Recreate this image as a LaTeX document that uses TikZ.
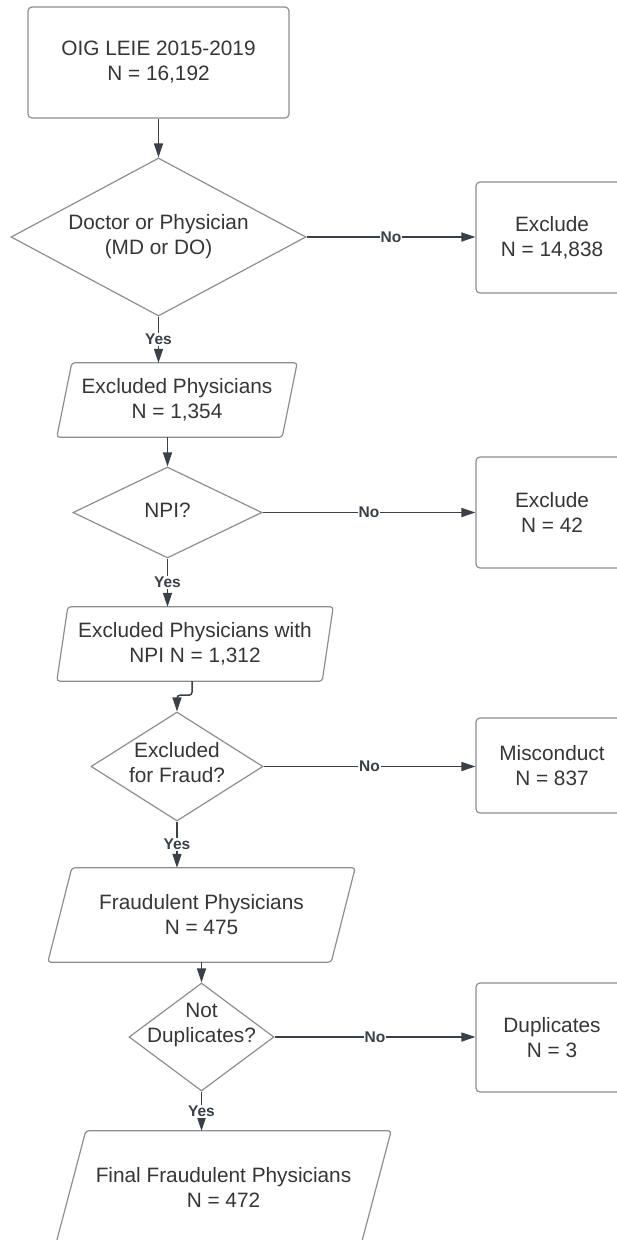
\documentclass[tikz,border=0pt]{standalone}
\usepackage{fontspec}
\setmainfont{Liberation Sans}
\usetikzlibrary{arrows.meta, shapes.geometric}

\definecolor{linegray}{HTML}{3A4048}
\definecolor{boxgray}{HTML}{8E8E8E}
\definecolor{textgray}{HTML}{363636}

\begin{document}
\begin{tikzpicture}[
    x=1pt, y=-1pt,
    every node/.style={text=textgray, font=\fontsize{20.8pt}{25pt}\selectfont, align=center},
    procbox/.style={rectangle, draw=boxgray, line width=1.2pt, rounded corners=4pt, inner sep=0pt},
    iobox/.style={rectangle, inner sep=0pt, append after command={\pgfextra{
        \draw[boxgray, line width=1.2pt, rounded corners=3pt]
            ([xshift=#1]\tikzlastnode.north west) -- (\tikzlastnode.north east)
            -- ([xshift=-#1]\tikzlastnode.south east) -- (\tikzlastnode.south west) -- cycle;}}},
    decision/.style={diamond, draw=boxgray, line width=1.2pt, inner sep=0pt},
    flow/.style={draw=linegray, line width=1.5pt, -{Triangle[length=14pt, width=9pt]}},
    answer/.style={fill=white, inner sep=1pt, text=linegray, font=\fontsize{15.5pt}{18pt}\selectfont\bfseries}
]
    \fill[white] (0,0) rectangle (616,1240);
    \useasboundingbox (0,0) rectangle (616,1240);

    % Main column
    \node[procbox, minimum width=261pt, minimum height=111pt] (src) at (158.5, 62.5) {OIG LEIE 2015-2019\\N = 16,192};

    \node[decision, minimum width=295pt, minimum height=158pt] (d1) at (158.5, 237) {};
    \node (d1t) at (d1) {Doctor or Physician\\(MD or DO)};

    \node[iobox=15pt, minimum width=240pt, minimum height=74pt] (p1) at (177, 400) {Excluded Physicians\\N = 1,354};

    \node[decision, minimum width=189pt, minimum height=91pt] (d2) at (167.5, 512.5) {};
    \node (d2t) at ([yshift=2pt]d2.center) {NPI?};

    \node[iobox=11pt, minimum width=276pt, minimum height=74pt] (p2) at (195, 644) {Excluded Physicians with\\NPI N = 1,312};

    \node[decision, minimum width=172pt, minimum height=109pt] (d3) at (177, 766.5) {};
    \node (d3t) at ([yshift=4pt]d3.center) {Excluded\\for Fraud?};

    \node[iobox=24pt, minimum width=307pt, minimum height=94pt] (p3) at (201.5, 915) {Fraudulent Physicians\\N = 475};

    \node[decision, minimum width=145pt, minimum height=108pt] (d4) at (201.5, 1037) {};
    \node (d4t) at ([yshift=12pt]d4.center) {Not\\Duplicates?};

    \node[iobox=30pt, minimum width=335pt, minimum height=113pt] (p4) at (223.5, 1187.5) {Final Fraudulent Physicians\\N = 472};

    % Exclusions
    \node[procbox, minimum width=152pt, minimum height=111pt] (ex1) at (552, 237.5) {Exclude\\N = 14,838};
    \node[procbox, minimum width=152pt, minimum height=111pt] (ex2) at (552, 512.5) {Exclude\\N = 42};
    \node[procbox, minimum width=152pt, minimum height=95pt] (mis) at (552, 765.5) {Misconduct\\N = 837};
    \node[procbox, minimum width=152pt, minimum height=109pt] (dup) at (552, 1037.5) {Duplicates\\N = 3};

    % Connectors
    \draw[flow] (src.south -| d1.north) -- (d1.north);
    \draw[flow] (d1.south) -- node[answer] {Yes} (d1.south |- p1.north);
    \draw[flow] (d1.east) -- node[answer] {No} (d1.east -| ex1.west);
    \draw[flow] (d2.north |- p1.south) -- (d2.north);
    \draw[flow] (d2.south) -- node[answer] {Yes} (d2.south |- p2.north);
    \draw[flow] (d2.east) -- node[answer] {No} (d2.east -| ex2.west);
    \draw[flow, rounded corners=3pt] ([xshift=-3pt]p2.south) -- ++(0, 14) -| (d3.north);
    \draw[flow] (d3.south) -- node[answer] {Yes} (d3.south |- p3.north);
    \draw[flow] (d3.east) -- node[answer] {No} (d3.east -| mis.west);
    \draw[flow] (d4.north |- p3.south) -- (d4.north);
    \draw[flow] (d4.south) -- node[answer] {Yes} (d4.south |- p4.north);
    \draw[flow] (d4.east) -- node[answer] {No} (d4.east -| dup.west);

\end{tikzpicture}
\end{document}
